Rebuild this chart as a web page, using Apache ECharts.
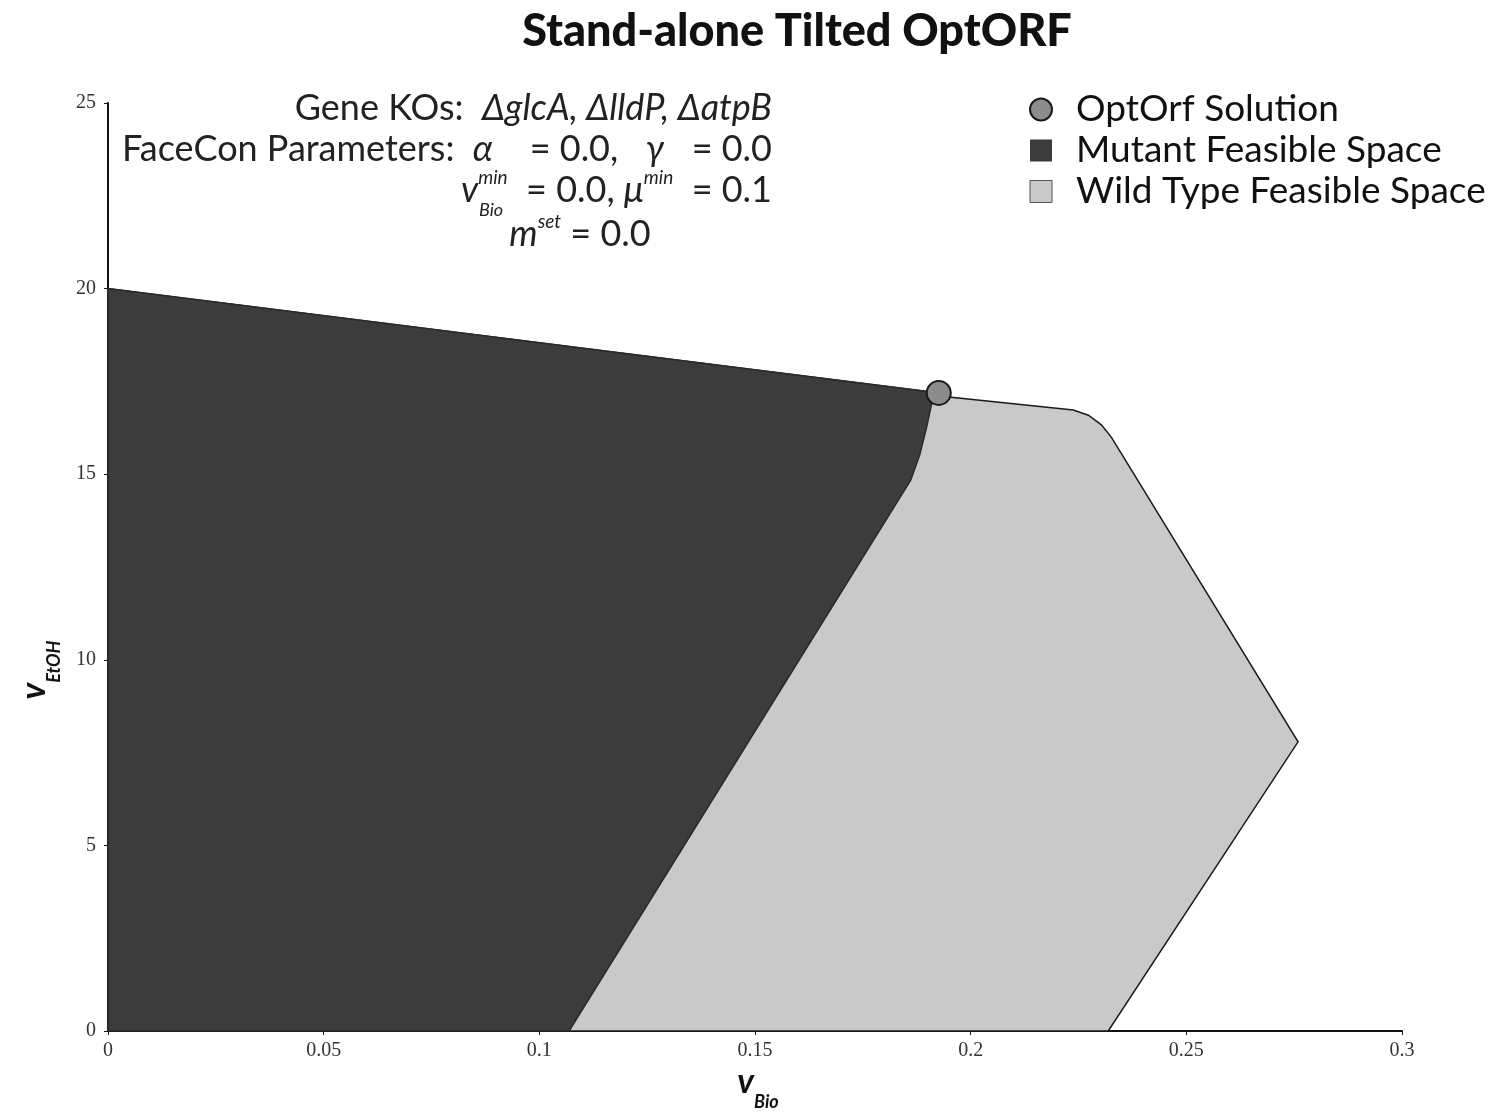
<!DOCTYPE html>
<html>
<head>
<meta charset="utf-8">
<script src="https://cdn.jsdelivr.net/npm/echarts@6/dist/echarts.min.js"></script>
<style>html,body{margin:0;padding:0;background:#fff}#c{width:1500px;height:1118px}</style>
</head>
<body>
<div id="c"></div>
<script>
// ---- data ----
const titleText = 'Stand-alone Tilted OptORF';
const xTicks = [0, 0.05, 0.1, 0.15, 0.2, 0.25, 0.3];
const yTicks = [0, 5, 10, 15, 20, 25];
// Wild type feasible space polygon (vBio, vEtOH)
const wtX = [0, 0, 0.1926, 0.1949, 0.2238, 0.2273, 0.2303, 0.2326, 0.2759, 0.2319];
const wtY = [0, 20, 17.19, 17.08, 16.73, 16.59, 16.33, 16.0, 7.79, 0];
// Mutant feasible space polygon
const mutX = [0, 0, 0.1926, 0.1910, 0.1898, 0.1882, 0.1861, 0.1069];
const mutY = [0, 20, 17.19, 16.92, 16.27, 15.52, 14.84, 0];
// OptOrf solution
const solX = [0.1926];
const solY = [17.19];
const seriesNames = ['OptOrf Solution', 'Mutant Feasible Space', 'Wild Type Feasible Space'];

const FONT = 'Lato';
const FS = 36;
const chart = echarts.init(document.getElementById('c'));

function polySeries(name, xs, ys, color, border, z) {
  return {
    name: name,
    type: 'custom',
    z: z,
    itemStyle: { color: color },
    data: xs.map((x, i) => [x, ys[i]]),
    encode: { x: 0, y: 1 },
    renderItem: function (params, api) {
      if (params.dataIndex !== 0) return null;
      const pts = xs.map((x, i) => api.coord([x, ys[i]]));
      return {
        type: 'polygon',
        shape: { points: pts },
        style: { fill: color, stroke: border, lineWidth: 1.5 }
      };
    }
  };
}

const richMain = {
  i: { fontStyle: 'italic', fontFamily: FONT, fontSize: FS, lineHeight: 44 },
  sup: { fontStyle: 'italic', fontFamily: FONT, fontSize: 19, lineHeight: 19, verticalAlign: 'top' }
};

const option = {
  animation: false,
  backgroundColor: '#fff',
  title: {
    text: titleText,
    left: 792, top: 4, textAlign: 'center',
    textStyle: { fontFamily: FONT, fontWeight: 900, fontSize: 45, color: '#111' }
  },
  grid: { left: 108, right: 98, top: 103, bottom: 87, containLabel: false },
  legend: {
    orient: 'vertical', left: 1024, top: 86,
    itemWidth: 22, itemHeight: 22, itemGap: 4,
    textStyle: { fontFamily: FONT, fontSize: 37, color: '#111', padding: [0, 0, 0, 19] },
    data: [
      { name: seriesNames[0], icon: 'circle' },
      { name: seriesNames[1], icon: 'rect' },
      { name: seriesNames[2], icon: 'rect', itemStyle: { borderColor: '#555', borderWidth: 1 } }
    ]
  },
  xAxis: {
    type: 'value', min: 0, max: 0.3, interval: 0.05,
    axisLine: { lineStyle: { color: '#111', width: 2 } },
    axisTick: { show: true, length: 4, lineStyle: { color: '#111' } },
    splitLine: { show: false },
    axisLabel: { fontFamily: 'Liberation Serif', fontSize: 20, color: '#333', margin: 10,
      formatter: v => String(xTicks.find(t => Math.abs(t - v) < 1e-9) ?? v) }
  },
  yAxis: {
    type: 'value', min: 0, max: 25, interval: 5,
    axisLine: { show: true, lineStyle: { color: '#111', width: 2 } },
    axisTick: { show: true, length: 4, lineStyle: { color: '#111' } },
    splitLine: { show: false },
    axisLabel: { fontFamily: 'Liberation Serif', fontSize: 20, color: '#333', margin: 12,
      formatter: v => String(yTicks.find(t => t === v) ?? v) }
  },
  series: [
    polySeries(seriesNames[2], wtX, wtY, '#c9c9c9', '#1a1a1a', 1),
    polySeries(seriesNames[1], mutX, mutY, '#3c3c3c', '#2a2a2a', 2),
    {
      name: seriesNames[0], type: 'scatter', z: 5,
      symbol: 'circle', symbolSize: 24,
      itemStyle: { color: '#8c8c8c', borderColor: '#1a1a1a', borderWidth: 2, opacity: 1 },
      data: solX.map((x, i) => [x, solY[i]])
    }
  ],
  graphic: [
    { type: 'text', x: 772, y: 108, style: {
        text: 'Gene KOs:  {i|ΔglcA, ΔlldP, ΔatpB}', align: 'right', verticalAlign: 'middle',
        fontFamily: FONT, fontSize: FS, fill: '#222', rich: richMain } },
    { type: 'text', x: 772, y: 149, style: {
        text: 'FaceCon Parameters:  {i|α}    = 0.0,   {i|γ}   = 0.0', align: 'right', verticalAlign: 'middle',
        fontFamily: FONT, fontSize: FS, fill: '#222', rich: richMain } },
    { type: 'text', x: 772, y: 190, style: {
        text: '{i|v}{sup|min}  = 0.0, {i|μ}{sup|min}  = 0.1', align: 'right', verticalAlign: 'middle',
        fontFamily: FONT, fontSize: FS, fill: '#222', lineHeight: 44, rich: richMain } },
    { type: 'text', x: 479, y: 210, style: {
        text: 'Bio', align: 'left', verticalAlign: 'middle',
        fontFamily: FONT, fontStyle: 'italic', fontSize: 18, fill: '#222' } },
    { type: 'text', x: 580, y: 234, style: {
        text: '{i|m}{sup|set} = 0.0', align: 'center', verticalAlign: 'middle',
        fontFamily: FONT, fontSize: FS, fill: '#222', lineHeight: 44, rich: richMain } },
    // axis names
    { type: 'text', x: 758, y: 1088, style: {
        text: '{v|v}{s|Bio}', align: 'center', verticalAlign: 'middle',
        rich: {
          v: { fontFamily: FONT, fontStyle: 'italic', fontWeight: 'bold', fontSize: 34, lineHeight: 46, verticalAlign: 'top', fill: '#111' },
          s: { fontFamily: FONT, fontStyle: 'italic', fontWeight: 'bold', fontSize: 18, lineHeight: 18, verticalAlign: 'bottom', fill: '#111' }
        } } },
    { type: 'text', x: 40, y: 670, rotation: Math.PI / 2, style: {
        text: '{v|v}{s|EtOH}', align: 'center', verticalAlign: 'middle',
        rich: {
          v: { fontFamily: FONT, fontStyle: 'italic', fontWeight: 'bold', fontSize: 34, lineHeight: 46, verticalAlign: 'top', fill: '#111' },
          s: { fontFamily: FONT, fontStyle: 'italic', fontWeight: 'bold', fontSize: 18, lineHeight: 18, verticalAlign: 'bottom', fill: '#111' }
        } } }
  ]
};
chart.setOption(option);
</script>
</body>
</html>
